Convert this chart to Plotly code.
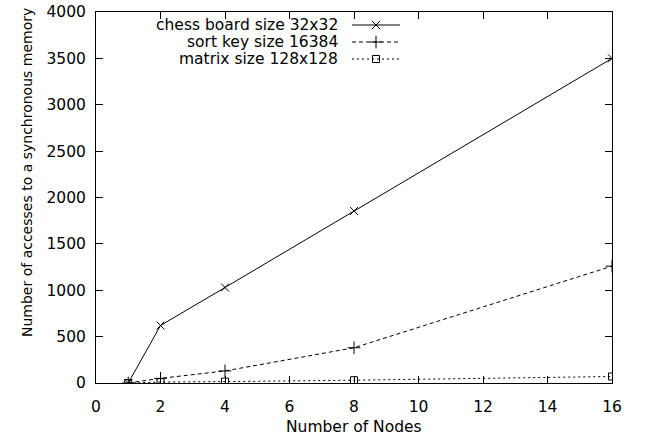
import plotly.graph_objects as go

# ---- data ----
nodes = [1, 2, 4, 8, 16]
chess = [0, 620, 1030, 1855, 3500]
sortk = [0, 50, 130, 380, 1260]
matrix = [0, 10, 15, 30, 70]
names = ["chess board size 32x32", "sort key size 16384", "matrix size 128x128"]
x_ticks = [0, 2, 4, 6, 8, 10, 12, 14, 16]
y_ticks = [0, 500, 1000, 1500, 2000, 2500, 3000, 3500, 4000]

FONT = dict(family="DejaVu Sans", size=15.5, color="black")
YFONT = dict(family="DejaVu Sans", size=14, color="black")
W, H = 648, 440
PL, PR, PT, PB = 96, 612, 12, 383  # target plot box in window pixels
L, T = PL, PT
PW, PH = PR - PL, PB - PT
R, B = W - L - PW, H - T - PH

def px(x):
    return (x - PL) / PW

def py(y):
    return (PB - y) / PH

styles = [
    dict(dash="solid", symbol="x-thin-open", size=8),
    dict(dash="4px,3px", symbol="cross-thin-open", size=9),
    dict(dash="2px,3px", symbol="square-open", size=7),
]
series = [chess, sortk, matrix]

fig = go.Figure()
for vals, st, nm in zip(series, styles, names):
    fig.add_trace(go.Scatter(
        x=nodes, y=vals, mode="lines+markers", name=nm, showlegend=False,
        line=dict(color="black", width=1, dash=st["dash"]),
        marker=dict(symbol=st["symbol"], size=st["size"], color="black",
                    line=dict(color="black", width=1)),
    ))

# custom gnuplot-style key (text right-aligned, sample on the right)
rows_y = [25, 42, 59]
text_right = 340
s0, s1 = 352, 400
for nm, st, ry in zip(names, styles, rows_y):
    fig.add_annotation(x=px(text_right), y=py(ry), xref="paper", yref="paper",
                       text=nm, showarrow=False, xanchor="right", yanchor="middle",
                       font=FONT)
    fig.add_shape(type="line", xref="paper", yref="paper",
                  x0=px(s0), x1=px(s1), y0=py(ry), y1=py(ry),
                  line=dict(color="black", width=1, dash=st["dash"]))
    fig.add_trace(go.Scatter(
        x=[px((s0 + s1) / 2)], y=[py(ry)], mode="markers", showlegend=False,
        xaxis="x2", yaxis="y2", hoverinfo="skip",
        marker=dict(symbol=st["symbol"], size=st["size"], color="black",
                    line=dict(color="black", width=1)),
    ))

fig.add_annotation(x=px(354), y=py(427), xref="paper", yref="paper",
                   text="Number of Nodes", showarrow=False,
                   xanchor="center", yanchor="middle", font=FONT)
fig.add_annotation(x=px(27), y=py(173), xref="paper", yref="paper",
                   text="Number of accesses to a synchronous memory", showarrow=False,
                   textangle=-90, xanchor="center", yanchor="middle", font=YFONT)

axis_common = dict(showline=True, linecolor="black", linewidth=1, mirror="ticks",
                   ticks="inside", ticklen=7, tickwidth=1, tickcolor="black",
                   showgrid=False, zeroline=False, tickfont=FONT)
fig.update_layout(
    width=W, height=H, margin=dict(l=L, r=R, t=T, b=B, autoexpand=False),
    paper_bgcolor="white", plot_bgcolor="white", font=FONT,
    xaxis=dict(range=[0, 16], tickvals=x_ticks, ticktext=[str(v) for v in x_ticks],
               ticklabelstandoff=9, **axis_common),
    yaxis=dict(range=[0, 4000], tickvals=y_ticks, ticktext=[str(v) for v in y_ticks],
               ticklabelstandoff=6, **axis_common),
    xaxis2=dict(range=[0, 1], overlaying="x", visible=False, fixedrange=True),
    yaxis2=dict(range=[0, 1], overlaying="y", visible=False, fixedrange=True),
    showlegend=False,
)
fig.write_html("out.html", config={"displayModeBar": False},
               post_script="document.body.style.margin='0';document.body.style.overflow='hidden';")
